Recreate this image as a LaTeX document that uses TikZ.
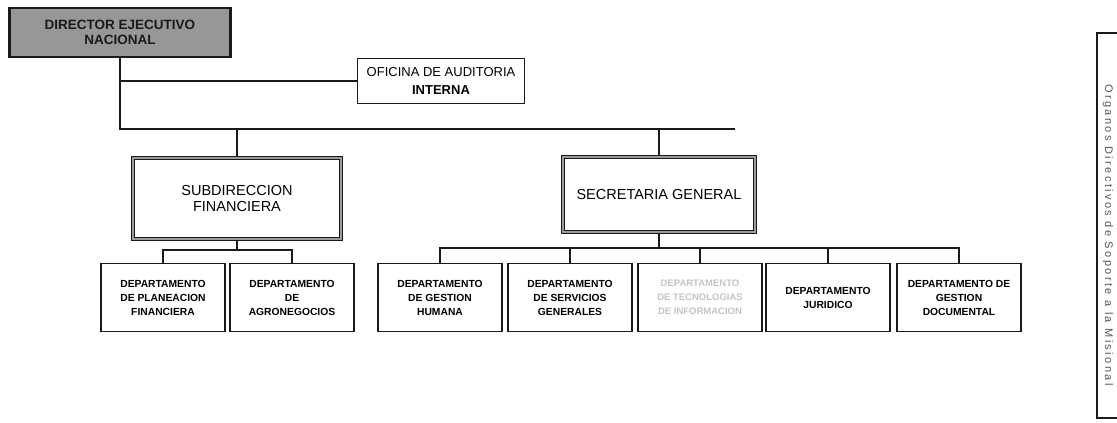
\documentclass[tikz,border=0pt]{standalone}
\usepackage{fontspec}
\setmainfont{Liberation Sans}
\newfontfamily\ogespaciada[LetterSpace=22]{Liberation Sans}
\usetikzlibrary{positioning,calc}
\definecolor{ogborde}{HTML}{1A1A1A}
\definecolor{oggris}{HTML}{979797}
\definecolor{ogdoble}{HTML}{9A9A9A}
\definecolor{ogtenue}{HTML}{C4C4C4}
\definecolor{ogrotulo}{HTML}{555555}
\tikzset{
  ogdirector/.style={draw=ogborde, fill=oggris, line width=2.4pt, align=center,
                  font=\fontsize{13.5}{15}\selectfont\bfseries, text=ogborde,
                  minimum width=221pt, minimum height=49pt, inner sep=2pt},
  ogoficina/.style={draw=ogborde, line width=1.6pt, align=center,
                  font=\fontsize{13}{18}\selectfont, minimum width=167pt,
                  minimum height=45pt, inner sep=2pt},
  ogsubdir/.style={draw=ogborde, line width=1.1pt, double=ogdoble, double distance=1.2pt,
                  align=center, font=\fontsize{14.5}{16}\selectfont, inner sep=2pt},
  ogdepto/.style={draw=ogborde, line width=1.1pt, align=center,
                  font=\fontsize{10.3}{14}\selectfont\bfseries,
                  minimum width=124pt, minimum height=68pt, inner sep=1pt},
  oglinea/.style={draw=ogborde, line width=1.2pt},
  oglateral/.style={font=\ogespaciada\fontsize{11}{12}\selectfont, text=ogrotulo, rotate=-90},
}
\begin{document}
\begin{tikzpicture}[x=1pt, y=-1pt]
        \useasboundingbox (0,0) rectangle (1117,423);
        % nivel directivo
        \node[ogdirector] (dir) at (120,32.5) {DIRECTOR EJECUTIVO\\ NACIONAL};
        \node[ogoficina] (aud) at (441,81) {OFICINA DE AUDITORIA\\ \textbf{INTERNA}};
        \node[ogsubdir, minimum width=208pt, minimum height=81pt] (sub) at (237,198.5) {SUBDIRECCION\\ FINANCIERA};
        \node[ogsubdir, minimum width=192pt, minimum height=75pt] (sec) at (659,194.5) {SECRETARIA GENERAL};
        % departamentos
        \node[ogdepto] (d1) at (163,297.5) {DEPARTAMENTO\\ DE PLANEACION\\ FINANCIERA};
        \node[ogdepto] (d2) at (292,297.5) {DEPARTAMENTO\\ DE\\ AGRONEGOCIOS};
        \node[ogdepto] (d3) at (440,297.5) {DEPARTAMENTO\\ DE GESTION\\ HUMANA};
        \node[ogdepto] (d4) at (570,297.5) {DEPARTAMENTO\\ DE SERVICIOS\\ GENERALES};
        \node[ogdepto, text=ogtenue, font=\fontsize{9.5}{14}\selectfont\bfseries] (d5) at (700,297.5) {DEPARTAMENTO\\ DE TECNOLOGIAS\\ DE INFORMACION};
        \node[ogdepto] (d6) at (828,297.5) {DEPARTAMENTO\\ JURIDICO};
        \node[ogdepto] (d7) at (959,297.5) {DEPARTAMENTO DE\\ GESTION\\ DOCUMENTAL};
        % conectores
        \coordinate (troncal) at (735,129);
        \coordinate (rsub) at (237,250);
        \coordinate (rsec) at (659,248);
        \draw[oglinea] (dir.south) |- (aud.west);
        \draw[oglinea] (dir.south) -- (dir.south |- troncal) -- (troncal);
        \draw[oglinea] (sub.north |- troncal) -- (sub.north);
        \draw[oglinea] (sec.north |- troncal) -- (sec.north);
        \draw[oglinea] (sub.south) -- (rsub);
        \draw[oglinea] (d1.north) |- (rsub) -| (d2.north);
        \draw[oglinea] (sec.south) -- (rsec);
        \draw[oglinea] (d3.north) |- (rsec) -| (d7.north);
        \foreach \d in {d4,d5,d6}
            \draw[oglinea] (\d.north) -- (\d.north |- rsec);
        % llave lateral
        \coordinate (ls1) at (1117,33);
        \coordinate (ls2) at (1097,33);
        \coordinate (ls3) at (1097,418);
        \coordinate (ls4) at (1117,418);
        \draw[oglinea, line width=1.8pt] (ls1) -- (ls2) -- (ls3) -- (ls4);
        \node[oglateral] (lat) at (1108,235) {Organos Directivos de Soporte a la Misional};
    \end{tikzpicture}
\end{document}
